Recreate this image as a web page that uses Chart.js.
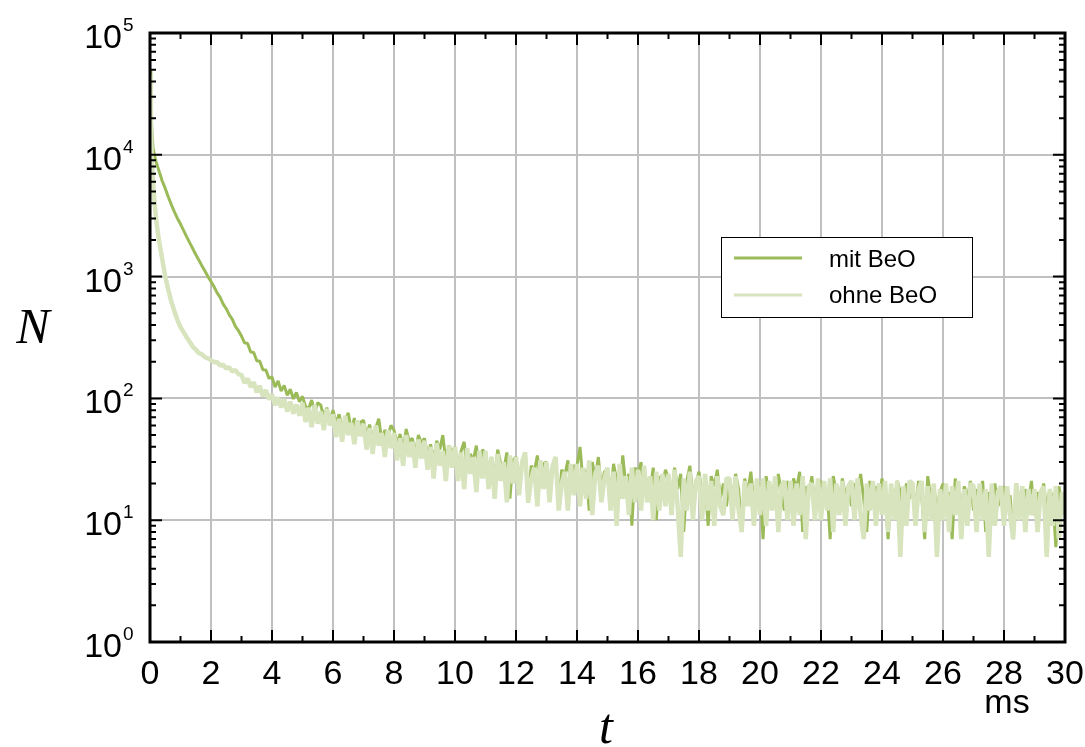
<!DOCTYPE html>
<html>
<head>
<meta charset="utf-8">
<script src="https://cdn.jsdelivr.net/npm/chart.js@4/dist/chart.umd.min.js"></script>
<style>
  html, body { margin: 0; padding: 0; background: #fff; }
  #wrap { width: 1085px; height: 747px; position: relative; }
</style>
</head>
<body>
<div id="wrap"><canvas id="myChart"></canvas></div>
<script>
// time axis: a few early bins, then regular 0.1 ms bins from 1 ms on
const earlyTimes = [0, 0.03, 0.06, 0.1, 0.15, 0.2, 0.25, 0.3, 0.35, 0.4, 0.5, 0.6, 0.7, 0.8, 0.9];
const tailStart = 1.0;
const tailStep = 0.1;

const earlyMit  = [50000, 25000, 16000, 11500, 9800, 8800, 8000, 7300, 6700, 6100, 5300, 4500, 3900, 3400, 3000];
const earlyOhne = [45000, 18000, 9500, 6000, 4000, 3000, 2350, 1950, 1650, 1400, 1000, 780, 620, 520, 440];

// mit BeO, t = 1.0 ... 30.0 ms (one row per ms)
const mitTail = [
  2700, 2400, 2130, 1900, 1700, 1520, 1370, 1230, 1110, 1000,
  910, 825, 735, 675, 595, 545, 485, 445, 390, 360,
  325, 286, 282, 240, 238, 204, 202, 172, 171, 146,
  150, 124, 139, 115, 128, 106, 119, 99, 112, 94,
  104, 86, 82, 97, 77, 92, 88, 70, 84, 66,
  80, 62, 74, 57, 66, 76, 54, 69, 50, 64,
  66, 50, 61, 47, 57, 68, 45, 55, 49, 60,
  55, 42, 51, 38, 56, 44, 47, 35, 50, 43,
  47, 34, 42, 31, 45, 38, 50, 30, 41, 36,
  40, 28, 37, 44, 26, 35, 31, 41, 25, 38,
  35, 25, 33, 22, 38, 29, 26, 36, 15, 31,
  33, 22, 30, 36, 14, 28, 25, 34, 21, 29,
  30, 20, 27, 33, 13, 26, 23, 31, 19, 28,
  28, 40, 20, 26, 12, 30, 22, 33, 18, 25,
  26, 17, 29, 21, 15, 34, 19, 24, 9, 27,
  24, 30, 16, 22, 18, 27, 10, 23, 19, 26,
  22, 15, 27, 18, 24, 8, 21, 28, 16, 20,
  25, 16, 21, 9, 23, 19, 26, 15, 20, 13,
  21, 15, 24, 18, 8, 22, 17, 25, 14, 19,
  20, 7, 23, 16, 19, 13, 24, 17, 12, 21,
  14, 22, 18, 25, 8, 19, 16, 23, 13, 20,
  21, 15, 18, 7, 23, 17, 14, 22, 16, 19,
  13, 20, 17, 24, 15, 8, 21, 16, 19, 14,
  22, 16, 7, 19, 14, 21, 17, 12, 20, 15,
  18, 13, 21, 16, 7, 23, 15, 19, 12, 17,
  20, 14, 17, 7, 22, 16, 13, 19, 15, 21,
  12, 18, 15, 21, 8, 17, 14, 20, 13, 16,
  19, 13, 16, 7, 20, 15, 12, 18, 14, 21,
  11, 17, 14, 20, 12, 18, 15, 6, 19, 13,
  16
];

// ohne BeO, t = 1.0 ... 30.0 ms
const ohneTail = [
  385, 350, 318, 292, 266, 252, 236, 230, 218, 213,
  206, 198, 199, 186, 189, 176, 180, 166, 171, 158,
  156, 134, 146, 124, 136, 112, 127, 104, 117, 98,
  108, 88, 102, 84, 99, 78, 94, 75, 89, 72,
  92, 64, 84, 58, 88, 62, 78, 55, 82, 60,
  74, 48, 68, 44, 72, 50, 63, 42, 66, 49,
  62, 38, 57, 35, 60, 41, 52, 33, 55, 39,
  52, 31, 47, 28, 50, 33, 44, 27, 46, 32,
  45, 26, 40, 22, 43, 28, 37, 21, 41, 27,
  40, 21, 36, 18, 39, 24, 33, 17, 37, 22,
  37, 18, 33, 15, 35, 21, 30, 14, 34, 20,
  33, 16, 30, 36, 14, 22, 27, 13, 31, 18,
  30, 14, 28, 33, 12, 20, 25, 12, 29, 16,
  29, 13, 27, 15, 31, 11, 24, 28, 14, 22,
  27, 12, 25, 9, 29, 15, 23, 11, 27, 14,
  26, 12, 28, 14, 23, 10, 25, 12, 24, 13,
  24, 11, 26, 13, 5, 22, 12, 25, 10, 21,
  23, 10, 24, 12, 21, 9, 23, 13, 11, 22,
  22, 10, 23, 12, 8, 21, 13, 20, 9, 22,
  11, 22, 9, 21, 12, 23, 8, 19, 21, 10,
  21, 9, 20, 11, 23, 7, 19, 20, 10, 22,
  10, 21, 12, 22, 8, 20, 11, 21, 9, 19,
  21, 10, 22, 11, 7, 20, 12, 21, 9, 20,
  11, 21, 8, 20, 10, 21, 5, 19, 9, 21,
  20, 9, 18, 21, 8, 19, 10, 20, 5, 18,
  10, 20, 8, 19, 11, 21, 7, 18, 9, 20,
  19, 8, 20, 10, 18, 5, 20, 9, 17, 19,
  9, 19, 11, 7, 20, 10, 19, 8, 18, 11,
  18, 8, 17, 19, 5, 18, 9, 19, 7, 17,
  11
];

const xTicks = [0, 2, 4, 6, 8, 10, 12, 14, 16, 18, 20, 22, 24, 26, 28, 30];
const yTicks = [1, 10, 100, 1000, 10000, 100000];
const seriesNames = ['mit BeO', 'ohne BeO'];
const seriesColors = ['#9bbb59', '#d7e4bd'];

const times = earlyTimes.concat(mitTail.map((_, i) => +(tailStart + i * tailStep).toFixed(2)));
const mitValues = earlyMit.concat(mitTail);
const ohneValues = earlyOhne.concat(ohneTail);

const SANS = '"Liberation Sans", Arial, sans-serif';
const SERIF = '"Liberation Serif", "Times New Roman", serif';

// frame, inward ticks, labels, titles and legend
const decorations = {
  id: 'decorations',
  afterDraw(chart) {
    const { ctx, chartArea: a, scales: { x, y } } = chart;
    ctx.save();

    ctx.strokeStyle = '#000';
    ctx.lineWidth = 2;
    ctx.beginPath();
    for (let v = 0; v <= 30; v++) {
      const px = x.getPixelForValue(v);
      const len = v % 2 === 0 ? 12 : 6;
      ctx.moveTo(px, a.bottom); ctx.lineTo(px, a.bottom - len);
      ctx.moveTo(px, a.top); ctx.lineTo(px, a.top + len);
    }
    for (let e = 0; e < 5; e++) {
      for (let m = 1; m <= 9; m++) {
        const py = y.getPixelForValue(m * Math.pow(10, e));
        const len = m === 1 ? 12 : 6;
        ctx.moveTo(a.left, py); ctx.lineTo(a.left + len, py);
        ctx.moveTo(a.right, py); ctx.lineTo(a.right - len, py);
      }
    }
    ctx.stroke();

    ctx.lineWidth = 3;
    ctx.strokeRect(a.left, a.top, a.right - a.left, a.bottom - a.top);

    // x tick labels
    ctx.fillStyle = '#000';
    ctx.font = `34px ${SANS}`;
    ctx.textAlign = 'center';
    ctx.textBaseline = 'alphabetic';
    xTicks.forEach(v => ctx.fillText(String(v), x.getPixelForValue(v), 684));

    // y tick labels 10^n
    yTicks.forEach(v => {
      const py = y.getPixelForValue(v);
      const exp = Math.round(Math.log10(v));
      ctx.font = `34px ${SANS}`;
      ctx.textAlign = 'right';
      ctx.fillText('10', 122, py + 15);
      ctx.font = `19px ${SANS}`;
      ctx.textAlign = 'left';
      ctx.fillText(String(exp), 123, py - 2);
    });

    // unit and axis titles
    ctx.font = `34px ${SANS}`;
    ctx.textAlign = 'center';
    ctx.fillText('ms', 1007, 713);
    ctx.font = `italic 50px ${SERIF}`;
    ctx.fillText('t', 606, 743);
    ctx.fillText('N', 33, 343);

    // legend
    ctx.fillStyle = '#fff';
    ctx.fillRect(721, 237, 252, 80);
    ctx.lineWidth = 1;
    ctx.strokeStyle = '#000';
    ctx.strokeRect(721.5, 237.5, 251, 80);
    ctx.font = `24px ${SANS}`;
    ctx.textAlign = 'left';
    seriesNames.forEach((name, i) => {
      const ly = 258 + i * 37;
      ctx.strokeStyle = seriesColors[i];
      ctx.lineWidth = 3;
      ctx.beginPath();
      ctx.moveTo(734, ly); ctx.lineTo(802, ly);
      ctx.stroke();
      ctx.fillStyle = '#000';
      ctx.fillText(name, 829, 267 + i * 36);
    });

    ctx.restore();
  }
};

new Chart('myChart', {
  type: 'line',
  data: {
    datasets: [
      {
        label: seriesNames[0],
        data: times.map((t, i) => ({ x: t, y: mitValues[i] })),
        borderColor: seriesColors[0],
        borderWidth: 3,
        order: 1
      },
      {
        label: seriesNames[1],
        data: times.map((t, i) => ({ x: t, y: ohneValues[i] })),
        borderColor: seriesColors[1],
        borderWidth: 4.5,
        order: 0
      }
    ]
  },
  options: {
    responsive: true,
    maintainAspectRatio: false,
    animation: false,
    layout: { padding: { left: 150, top: 33, right: 20, bottom: 105 } },
    elements: {
      point: { radius: 0 },
      line: { tension: 0, borderJoinStyle: 'bevel' }
    },
    scales: {
      x: {
        type: 'linear',
        min: 0,
        max: 30,
        ticks: { display: false, stepSize: 2 },
        grid: { color: '#c0c0c0', lineWidth: 2, drawTicks: false },
        border: { display: false }
      },
      y: {
        type: 'logarithmic',
        min: 1,
        max: 100000,
        afterBuildTicks: s => { s.ticks = yTicks.map(v => ({ value: v })); },
        ticks: { display: false },
        grid: { color: '#c0c0c0', lineWidth: 2, drawTicks: false },
        border: { display: false }
      }
    },
    plugins: {
      legend: { display: false },
      tooltip: { enabled: false }
    }
  },
  plugins: [decorations]
});
</script>
</body>
</html>
